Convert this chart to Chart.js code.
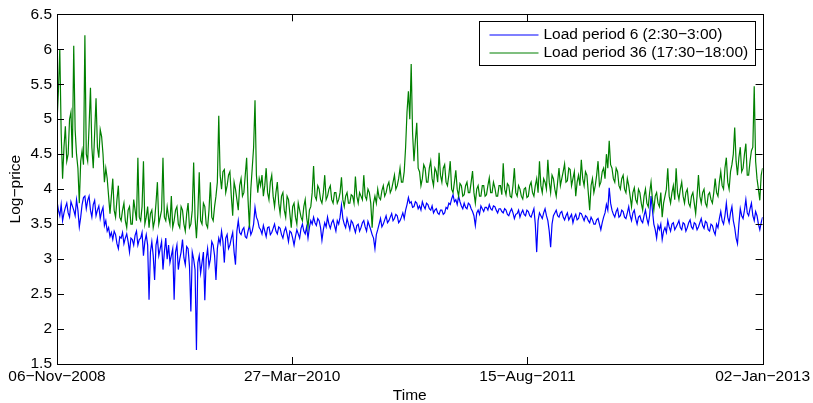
<!DOCTYPE html>
<html>
<head>
<meta charset="utf-8">
<title>Log-price by load period</title>
<script src="https://cdn.jsdelivr.net/npm/chart.js@4.4.1/dist/chart.umd.min.js"></script>
<style>
    html, body { margin: 0; padding: 0; background: #fff; }
    #chart { display: block; }
</style>
</head>
<body>
<canvas id="chart" width="813" height="403"></canvas>
<script>
(function(global){
    "use strict";

    // one sample every 3 days, starting 06-Nov-2008
    var sampleStep = 3;

    var tickDays = [0, 506, 1012, 1518];
    var tickLabels = ["06\u2212Nov\u22122008", "27\u2212Mar\u22122010", "15\u2212Aug\u22122011", "02\u2212Jan\u22122013"];
    var yTicks = [1.5, 2, 2.5, 3, 3.5, 4, 4.5, 5, 5.5, 6, 6.5];

    var seriesLabels = ["Load period 6 (2:30\u22123:00)", "Load period 36 (17:30\u221218:00)"];
    var seriesColors = ["#0000ff", "#008000"];

    var period6 = [
        3.83, 3.7, 3.62, 3.78, 3.55, 3.66, 3.74, 3.8, 3.66, 3.6, 3.82, 3.76, 3.7, 3.62, 3.85, 3.7, 3.46, 3.6, 3.78, 3.88,
        3.9, 3.72, 3.84, 3.9, 3.7, 3.6, 3.78, 3.84, 3.62, 3.7, 3.76, 3.58, 3.68, 3.74, 3.48, 3.55, 3.4, 3.45, 3.32, 3.38,
        3.28, 3.4, 3.35, 3.22, 3.15, 3.32, 3.3, 3.38, 3.22, 3.3, 3.36, 3.25, 3.1, 3.3, 3.28, 3.2, 3.34, 3.4, 3.2, 3.28,
        3.3, 3.38, 3.05, 3.25, 3.35, 3.2, 2.42, 3.1, 3.25, 3.05, 2.7, 3.2, 3.3, 3.05, 3.15, 3.25, 2.85, 3.1, 3.3, 3.0,
        3.2, 2.95, 3.05, 3.15, 2.42, 3.1, 3.2, 2.85, 3.0, 3.1, 3.28, 3.02, 2.92, 3.18, 3.15, 2.9, 2.25, 3.1, 3.0, 2.85,
        1.7, 2.95, 3.05, 2.8, 2.95, 3.1, 2.41, 3.0, 3.15, 2.9, 3.0, 3.25, 3.2, 3.05, 2.7, 3.15, 3.3, 3.22, 3.4, 3.25,
        2.95, 3.3, 3.35, 3.15, 3.2, 3.3, 3.38, 3.1, 2.92, 3.4, 3.55, 3.38, 3.35, 3.42, 3.45, 3.32, 3.3, 3.4, 3.48, 3.35,
        3.4, 3.5, 3.74, 3.6, 3.55, 3.45, 3.42, 3.36, 3.48, 3.4, 3.32, 3.45, 3.46, 3.35, 3.38, 3.44, 3.5, 3.4, 3.36, 3.46,
        3.44, 3.35, 3.3, 3.4, 3.45, 3.36, 3.25, 3.4, 3.38, 3.3, 3.2, 3.32, 3.42, 3.36, 3.3, 3.44, 3.5, 3.4, 3.36, 3.46,
        3.3, 3.45, 3.55, 3.5, 3.6, 3.52, 3.48, 3.58, 3.55, 3.45, 3.27, 3.42, 3.52, 3.46, 3.6, 3.5, 3.44, 3.52, 3.56, 3.48,
        3.4, 3.55, 3.5, 3.6, 3.77, 3.58, 3.5, 3.45, 3.58, 3.5, 3.42, 3.55, 3.52, 3.45, 3.38, 3.48, 3.5, 3.4, 3.45, 3.52,
        3.55, 3.46, 3.4, 3.54, 3.48, 3.42, 3.35, 3.3, 3.15, 3.35, 3.42, 3.5, 3.58, 3.46, 3.5, 3.56, 3.62, 3.52, 3.55, 3.6,
        3.65, 3.55, 3.58, 3.64, 3.62, 3.52, 3.55, 3.6, 3.66, 3.58, 3.7, 3.78, 3.88, 3.8, 3.82, 3.74, 3.75, 3.82, 3.8, 3.72,
        3.76, 3.7, 3.82, 3.76, 3.72, 3.8, 3.78, 3.72, 3.7, 3.76, 3.66, 3.7, 3.72, 3.66, 3.64, 3.7, 3.7, 3.64, 3.66, 3.74,
        3.72, 3.8, 3.78, 3.86, 3.92, 3.82, 3.85, 3.78, 3.9, 3.82, 3.76, 3.72, 3.8, 3.74, 3.72, 3.8, 3.78, 3.72, 3.68, 3.62,
        3.48, 3.66, 3.7, 3.64, 3.76, 3.72, 3.68, 3.74, 3.74, 3.7, 3.78, 3.72, 3.7, 3.76, 3.75, 3.7, 3.66, 3.72, 3.72, 3.68,
        3.66, 3.72, 3.7, 3.64, 3.62, 3.68, 3.72, 3.66, 3.58, 3.64, 3.65, 3.7, 3.6, 3.66, 3.7, 3.64, 3.62, 3.7, 3.68, 3.62,
        3.6, 3.66, 3.72, 3.5, 3.1, 3.55, 3.66, 3.62, 3.58, 3.66, 3.72, 3.62, 3.55, 3.4, 3.17, 3.5, 3.62, 3.66, 3.7, 3.62,
        3.6, 3.66, 3.68, 3.6, 3.56, 3.62, 3.66, 3.56, 3.6, 3.64, 3.52, 3.6, 3.64, 3.56, 3.58, 3.66, 3.65, 3.6, 3.55, 3.62,
        3.6, 3.55, 3.52, 3.6, 3.56, 3.5, 3.5, 3.56, 3.58, 3.5, 3.42, 3.52, 3.6, 3.66, 3.78, 3.7, 4.02, 3.8, 3.7, 3.64,
        3.6, 3.68, 3.72, 3.6, 3.62, 3.7, 3.68, 3.6, 3.58, 3.66, 3.75, 3.62, 3.55, 3.66, 3.7, 3.58, 3.5, 3.6, 3.62, 3.55,
        3.52, 3.62, 3.7, 3.58, 3.5, 3.62, 3.9, 3.7, 3.5, 3.42, 3.3, 3.48, 3.42, 3.5, 3.28, 3.4, 3.45, 3.38, 3.55, 3.46,
        3.4, 3.5, 3.52, 3.42, 3.46, 3.5, 3.55, 3.45, 3.42, 3.52, 3.5, 3.4, 3.45, 3.52, 3.56, 3.46, 3.43, 3.52, 3.5, 3.42,
        3.46, 3.52, 3.58, 3.48, 3.44, 3.54, 3.52, 3.42, 3.4, 3.5, 3.48, 3.4, 3.35, 3.5, 3.45, 3.58, 3.68, 3.55, 3.5, 3.62,
        3.8, 3.6, 3.52, 3.66, 3.75, 3.55, 3.45, 3.3, 3.22, 3.5, 3.72, 3.62, 3.58, 3.7, 3.85, 3.66, 3.62, 3.72, 3.8, 3.62,
        3.55, 3.68, 3.62, 3.5, 3.42, 3.52, 3.6
    ];

    var period36 = [
        4.95, 5.4, 6.0, 4.8, 4.15, 4.6, 4.9, 4.4, 4.5, 5.0, 5.1, 4.45, 6.05, 4.85, 4.5, 4.3, 3.8, 4.4, 4.55, 4.35,
        6.2, 4.5, 4.4, 4.9, 5.45, 4.6, 4.3, 4.8, 5.3, 4.6, 4.45, 4.85, 4.75, 4.5, 4.1, 4.3, 4.15, 3.9, 3.65, 3.9,
        4.15, 3.7, 3.6, 3.85, 4.05, 3.6, 3.55, 3.7, 3.8, 3.55, 3.45, 3.7, 3.75, 3.5, 3.5, 3.85, 3.7, 3.55, 4.45, 3.6,
        3.55, 3.75, 4.4, 3.5, 3.6, 3.75, 3.45, 3.65, 3.7, 3.45, 3.55, 3.8, 4.1, 3.5, 3.6, 3.7, 4.45, 3.6, 3.55, 3.75,
        3.6, 3.5, 3.9, 3.45, 3.55, 3.7, 3.75, 3.5, 3.45, 3.75, 3.7, 3.5, 3.4, 3.65, 3.8, 3.45, 3.5, 3.7, 4.38, 3.6,
        3.3, 3.65, 4.24, 3.55, 3.5, 3.8, 3.75, 3.5, 3.45, 3.7, 4.1, 3.6, 3.55, 3.75, 3.9, 4.1, 5.05, 4.2, 4.0, 4.25,
        4.28, 3.95, 4.05, 4.2, 4.25, 3.9, 3.62, 4.1, 4.0, 3.85, 3.7, 4.05, 4.15, 3.9, 3.95, 4.2, 4.45, 3.85, 3.45, 4.0,
        4.3, 4.6, 5.27, 4.2, 3.95, 4.15, 4.05, 4.2, 3.9, 4.05, 4.3, 3.95, 3.85, 4.1, 4.2, 3.9, 3.75, 3.95, 4.1, 3.8,
        3.65, 3.9, 3.95, 3.7, 3.6, 3.9, 3.85, 3.65, 3.45, 3.75, 3.8, 3.6, 3.5, 3.8, 3.7, 3.6, 3.55, 3.75, 3.85, 3.6,
        3.45, 3.7, 3.75, 3.95, 4.33, 3.9, 3.85, 4.05, 4.0, 3.85, 3.8, 3.95, 4.2, 3.85, 3.9, 4.0, 4.05, 3.85, 3.8, 3.95,
        3.95, 3.8, 3.85, 3.95, 4.17, 3.85, 3.75, 3.9, 3.95, 3.8, 3.8, 3.92, 3.9, 3.8, 4.18, 3.9, 3.8, 3.95, 3.9, 3.85,
        4.2, 3.9, 3.85, 4.0, 3.95, 3.8, 3.45, 3.8, 3.9, 3.8, 4.0, 3.88, 3.85, 3.98, 4.05, 3.9, 3.95, 4.05, 4.1, 3.95,
        4.0, 4.1, 4.2, 4.0, 4.05, 4.15, 4.3, 4.1, 4.1, 4.25, 4.6, 5.1, 5.4, 5.0, 5.79, 4.8, 4.4, 4.7, 4.95, 4.3,
        4.25, 4.05, 4.15, 4.35, 4.3, 4.1, 4.1, 4.3, 4.4, 4.15, 4.05, 4.3, 4.25, 4.1, 4.52, 4.2, 4.1, 4.3, 4.35, 4.1,
        4.05, 4.2, 4.4, 4.0, 3.95, 4.1, 4.27, 4.0, 3.9, 4.08, 4.05, 3.9, 3.92, 4.05, 4.1, 3.95, 3.95, 4.1, 4.26, 3.95,
        3.8, 4.0, 4.05, 3.9, 3.9, 4.05, 4.05, 3.9, 3.92, 4.05, 4.16, 3.95, 3.95, 4.1, 4.02, 3.9, 3.9, 4.05, 4.05, 3.92,
        4.37, 4.0, 3.92, 4.08, 4.05, 3.9, 3.88, 4.05, 4.3, 3.95, 3.9, 4.05, 4.0, 3.9, 3.86, 4.0, 4.02, 3.88, 3.9, 4.05,
        4.1, 3.95, 3.9, 4.05, 4.15, 3.95, 4.4, 4.05, 3.95, 4.15, 4.1, 4.0, 4.42, 4.1, 3.95, 4.2, 4.15, 4.0, 3.9, 4.1,
        4.3, 4.05, 4.15, 4.25, 4.36, 4.1, 4.12, 4.3, 4.28, 4.05, 4.15, 4.25, 3.9, 4.1, 4.2, 4.05, 4.42, 4.15, 4.05, 4.25,
        4.2, 3.95, 3.7, 4.05, 4.15, 3.95, 4.05, 4.2, 4.4, 4.05, 4.1, 4.25, 4.3, 4.15, 4.5, 4.3, 4.69, 4.35, 4.3, 4.15,
        4.1, 4.3, 4.25, 4.05, 4.0, 4.15, 4.2, 4.0, 3.95, 4.15, 4.05, 3.9, 3.75, 3.95, 4.02, 3.85, 3.8, 4.0, 3.95, 3.8,
        3.7, 3.9, 4.0, 3.8, 3.75, 3.95, 4.1, 3.85, 3.7, 3.9, 3.95, 3.8, 3.75, 3.95, 3.6, 3.8, 3.9, 4.0, 4.3, 3.9,
        3.8, 3.95, 4.05, 3.85, 4.3, 3.95, 3.85, 4.0, 4.1, 3.9, 3.8, 3.95, 4.0, 3.8, 3.75, 3.9, 3.95, 3.8, 3.65, 3.9,
        4.2, 3.9, 3.8, 3.95, 4.0, 3.8, 3.75, 3.92, 3.95, 3.85, 3.8, 3.95, 4.15, 3.95, 3.9, 4.1, 4.25, 4.05, 4.0, 4.3,
        4.45, 4.1, 4.0, 4.25, 4.35, 4.5, 4.88, 4.4, 4.2, 4.45, 4.6, 4.25, 4.3, 4.5, 4.65, 4.2, 4.2, 4.4, 4.55, 4.6,
        5.47, 4.4, 4.15, 4.0, 3.84, 4.2, 4.3
    ];

    var FONT = "'Liberation Sans', Arial, Helvetica, sans-serif";
    var FONT_SIZE = 15.5;

    var toPoints = function(values) {
        var pts = [];
        for(var i = 0; i < values.length; i++) {
            pts.push({x: i * sampleStep, y: values[i]});
        }
        return pts;
    };

    // MATLAB style box with inward ticks on all four sides, plus the boxed legend
    var matlabFrame = {
        id: "matlabFrame",
        afterDatasetsDraw: function(chart) {
            var ctx = chart.ctx;
            var a = chart.chartArea;
            var xs = chart.scales.x;
            var ys = chart.scales.y;
            var len = 7;
            var i, p;

            ctx.save();
            ctx.strokeStyle = "#000";
            ctx.lineWidth = 1;
            ctx.beginPath();
            for(i = 0; i < tickDays.length; i++) {
                p = Math.round(xs.getPixelForValue(tickDays[i])) + 0.5;
                ctx.moveTo(p, a.bottom);
                ctx.lineTo(p, a.bottom - len);
                ctx.moveTo(p, a.top);
                ctx.lineTo(p, a.top + len);
            }
            for(i = 0; i < yTicks.length; i++) {
                p = Math.round(ys.getPixelForValue(yTicks[i])) + 0.5;
                ctx.moveTo(a.left, p);
                ctx.lineTo(a.left + len, p);
                ctx.moveTo(a.right, p);
                ctx.lineTo(a.right - len, p);
            }
            ctx.stroke();
            ctx.strokeRect(Math.round(a.left) + 0.5, Math.round(a.top) + 0.5,
                Math.round(a.right - a.left), Math.round(a.bottom - a.top));

            // legend box
            var boxW = 276, boxH = 44;
            var bx = Math.round(a.right) - 8 - boxW + 0.5;
            var by = Math.round(a.top) + 7 + 0.5;
            ctx.fillStyle = "#fff";
            ctx.fillRect(bx, by, boxW, boxH);
            ctx.strokeRect(bx, by, boxW, boxH);

            ctx.font = FONT_SIZE + "px " + FONT;
            ctx.textBaseline = "middle";
            ctx.textAlign = "left";
            var ds = chart.data.datasets;
            for(i = 0; i < ds.length; i++) {
                var rowY = Math.round(by + 13 + i * 18);
                ctx.strokeStyle = seriesColors[i];
                ctx.lineWidth = 1.2;
                ctx.beginPath();
                ctx.moveTo(bx + 10, rowY);
                ctx.lineTo(bx + 59, rowY);
                ctx.stroke();
                ctx.fillStyle = "#000";
                ctx.fillText(ds[i].label, bx + 64, rowY);
            }
            ctx.restore();
        }
    };

    var ctx = document.getElementById("chart").getContext("2d");

    global.logPriceChart = new Chart(ctx, {
        type: "line",
        data: {
            datasets: [
                {
                    label: seriesLabels[0],
                    data: toPoints(period6),
                    borderColor: seriesColors[0],
                    borderWidth: 1.2,
                    pointRadius: 0,
                    tension: 0,
                    order: 1
                },
                {
                    label: seriesLabels[1],
                    data: toPoints(period36),
                    borderColor: seriesColors[1],
                    borderWidth: 1.2,
                    pointRadius: 0,
                    tension: 0,
                    order: 0
                }
            ]
        },
        options: {
            responsive: false,
            animation: false,
            devicePixelRatio: 1,
            layout: {
                padding: {left: 0, top: 13, right: 50, bottom: 0}
            },
            plugins: {
                legend: {display: false},
                tooltip: {enabled: false}
            },
            scales: {
                x: {
                    type: "linear",
                    min: tickDays[0],
                    max: tickDays[tickDays.length - 1],
                    grid: {display: false, drawTicks: false},
                    border: {display: false},
                    afterBuildTicks: function(scale) {
                        scale.ticks = tickDays.map(function(d){ return {value: d}; });
                    },
                    afterFit: function(scale) {
                        scale.height = 39;
                    },
                    ticks: {
                        autoSkip: false,
                        maxRotation: 0,
                        padding: 3,
                        color: "#000",
                        font: {family: FONT, size: FONT_SIZE},
                        callback: function(value) {
                            var idx = tickDays.indexOf(value);
                            return idx >= 0 ? tickLabels[idx] : "";
                        }
                    },
                    title: {
                        display: true,
                        text: "Time",
                        color: "#000",
                        padding: {top: 0, bottom: 0},
                        font: {family: FONT, size: FONT_SIZE, lineHeight: 1}
                    }
                },
                y: {
                    min: 1.5,
                    max: 6.5,
                    grid: {display: false, drawTicks: false},
                    border: {display: false},
                    afterBuildTicks: function(scale) {
                        scale.ticks = yTicks.map(function(v){ return {value: v}; });
                    },
                    afterFit: function(scale) {
                        scale.width = 57;
                    },
                    ticks: {
                        padding: 5,
                        color: "#000",
                        font: {family: FONT, size: FONT_SIZE},
                        callback: function(value) {
                            return String(value);
                        }
                    },
                    title: {
                        display: true,
                        text: "Log\u2212price",
                        color: "#000",
                        padding: {top: 8, bottom: 8},
                        font: {family: FONT, size: FONT_SIZE, lineHeight: 1}
                    }
                }
            }
        },
        plugins: [matlabFrame]
    });

})(window);
</script>
</body>
</html>
